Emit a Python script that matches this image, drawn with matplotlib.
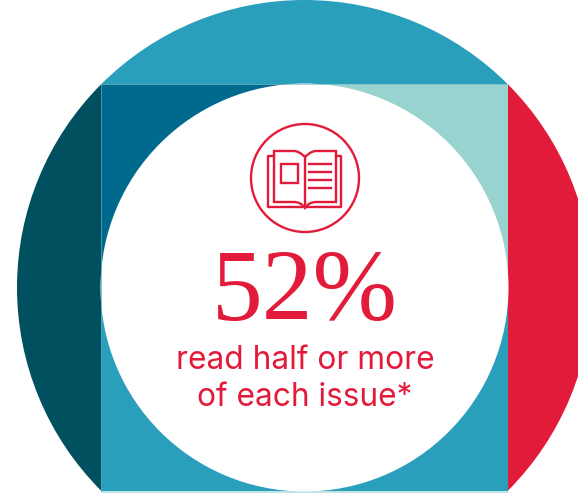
import matplotlib.pyplot as plt
from matplotlib.patches import Circle, Rectangle, PathPatch
from matplotlib.path import Path

# texts
stat_label = '52%'
caption_lines = ['read half or more', 'of each issue*']

# colours
red = '#e31b3a'
teal = '#2a9fbc'
dark_teal = '#00505f'
deep_blue = '#006a8e'
pale = '#98d3d0'
edge = '#bfe2e2'

W, H = 578, 493
fig = plt.figure(figsize=(W / 100, H / 100), dpi=100)
ax = fig.add_axes([0, 0, 1, 1])
ax.set_xlim(0, W)
ax.set_ylim(H, 0)
ax.axis('off')

cx, cy = 304.5, 287.5
R_out, R_in = 287.5, 204
x0, x1, y0, y1 = 101, 508, 84, 491

# outer ring segments, clipped to the big circle
outer = Circle((cx, cy), R_out, transform=ax.transData)
for xy, w, h, c in [((0, y0), x0, y1 - y0, dark_teal),
                    ((x0, -5), x1 - x0, y0 + 5, teal),
                    ((x1, y0), W - x1 + 30, y1 - y0, red)]:
    p = ax.add_patch(Rectangle(xy, w, h, fc=c, ec='none'))
    p.set_clip_path(outer)

# square quarters
ax.add_patch(Rectangle((x0, y0), cx - x0, cy - y0, fc=deep_blue, ec='none'))
ax.add_patch(Rectangle((cx, y0), x1 - cx, cy - y0, fc=pale, ec='none'))
ax.add_patch(Rectangle((x0, cy), x1 - x0, y1 - cy, fc=teal, ec='none'))
ax.add_patch(Rectangle((x0, y1), x1 - x0, 2, fc=edge, ec='none'))
ax.plot([x0, x0], [y0, y1], color='#5fa9bb', lw=0.5)
ax.plot([x0, x1], [y0, y0], color='#7fbccb', lw=0.5)

# white centre
ax.add_patch(Circle((cx, cy), R_in, fc='white', ec='none'))

# book icon
lw = 1.7
ax.add_patch(Circle((305, 178), 54, fc='none', ec=red, lw=lw))
ax.plot([274, 268, 268, 341, 341, 336], [156, 156, 207, 207, 156, 156], color=red, lw=lw)
M, L, C = Path.MOVETO, Path.LINETO, Path.CURVE3
verts = [(305, 157), (299, 151), (294, 151), (274, 151), (274, 202), (294, 202),
         (301, 202), (305, 208), (309, 202), (316, 202), (336, 202), (336, 151),
         (316, 151), (311, 151), (305, 157)]
codes = [M, C, C, L, L, L, C, C, C, C, L, L, L, C, C]
ax.add_patch(PathPatch(Path(verts, codes), fc='none', ec=red, lw=lw))
ax.plot([305, 305], [157, 207], color=red, lw=lw)
ax.add_patch(Rectangle((281, 164), 17, 19, fc='none', ec=red, lw=lw))
for y in [164, 172, 180, 188]:
    ax.plot([309, 331], [y, y], color=red, lw=lw)

# text
ax.text(305, 320, stat_label, color=red, fontsize=73, family='Liberation Serif',
        ha='center', va='baseline')
ax.text(305, 369, caption_lines[0], color=red, fontsize=22.8, family='Inter',
        ha='center', va='baseline')
ax.text(305, 406, caption_lines[1], color=red, fontsize=22.8, family='Inter',
        ha='center', va='baseline')

fig.savefig('out.png', dpi=100)
